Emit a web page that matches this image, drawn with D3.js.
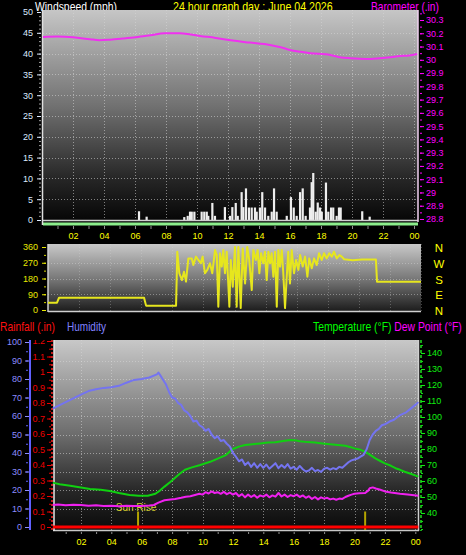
<!DOCTYPE html>
<html><head><meta charset="utf-8">
<script src="https://cdn.jsdelivr.net/npm/d3@7"></script>
<style>
html,body{margin:0;padding:0;background:#000;}
svg{display:block;}
</style></head><body>
<svg id="c" width="466" height="555"></svg>
<script>
// ---------- tick labels ----------
const tickHours = [2,4,6,8,10,12,14,16,18,20,22,24];
const hourLabels = ["02","04","06","08","10","12","14","16","18","20","22","00"];
const windTicks = [0,5,10,15,20,25,30,35,40,45,50];
const baroTicks = [28.8,28.9,29,29.1,29.2,29.3,29.4,29.5,29.6,29.7,29.8,29.9,30,30.1,30.2,30.3];
const dirTicks = [0,90,180,270,360];
const compassLabels = ["N","E","S","W","N"];
const humTicks = [0,10,20,30,40,50,60,70,80,90,100];
const rainTicks = [0,0.1,0.2,0.3,0.4,0.5,0.6,0.7,0.8,0.9,1,1.1,1.2];
const tempTicks = [40,50,60,70,80,90,100,110,120,130,140];

// ---------- barometer (in) ----------
const baroHours = [0.06,1,2,3.1,3.7,4.4,5.2,6.06,7,7.9,8.9,9.6,10.2,11.2,12.3,13.4,14.7,15.4,16,16.7,17.3,18.6,19.2,19.9,20.5,21.2,21.8,22.5,23.1,23.7,24.2];
const baroValues = [30.172,30.175,30.17,30.155,30.148,30.152,30.16,30.17,30.185,30.2,30.2,30.19,30.18,30.165,30.145,30.13,30.112,30.095,30.074,30.06,30.05,30.036,30.02,30.012,30.008,30.006,30.012,30.02,30.028,30.032,30.044];

// ---------- wind gusts (mph) ----------
const gustHours = [6.26,6.75,9.18,9.4,9.55,9.66,9.83,10.3,10.47,10.63,10.73,10.99,11.16,11.8,12.13,12.28,12.5,12.63,12.88,12.99,13.16,13.35,13.53,13.74,13.85,14.06,14.21,14.39,14.6,14.82,14.97,15.14,15.79,16.06,16.24,16.43,16.65,16.82,17.01,17.29,17.4,17.5,17.66,17.79,17.94,18.05,18.32,18.47,18.65,18.79,19.01,19.16,19.27,20.66,21.14];
const gustValues = [2.1,0.8,0.7,1,2,2,2,2,2,2,1,4.1,1,3.1,1,3.1,4.1,1,6.7,3.1,7.6,3,3,3,2,3,6.7,3,1,2,7.6,2,1,5.5,3,1,6.7,7.6,1,3,9.1,11.3,2,4.2,3,2,9,2,3,3,1,3,3,2.1,0.8];

// ---------- wind direction (deg) ----------
const dirHours = [0,0.58,0.71,6.18,6.31,8.24,8.32,8.45,8.62,8.75,8.88,9.03,9.25,9.35,9.52,9.67,9.83,9.95,10.1,10.25,10.42,10.57,10.75,10.86,10.96,11.07,11.18,11.28,11.39,11.5,11.67,11.76,11.89,12.03,12.14,12.25,12.4,12.53,12.68,12.82,12.95,13.11,13.21,13.38,13.49,13.6,13.71,13.85,13.96,14.07,14.18,14.29,14.39,14.5,14.61,14.72,14.82,14.93,15.04,15.14,15.25,15.36,15.46,15.57,15.68,15.83,15.96,16.11,16.22,16.39,16.54,16.69,16.81,16.97,17.12,17.29,17.44,17.61,17.76,17.93,18.1,18.26,18.4,18.58,18.75,18.9,19.05,19.6,20.2,21.1,21.17,24];
const dirValues = [42,42,70,70,25,25,333,210,171,219,162,295,295,257,305,286,267,305,210,229,267,210,343,314,19,324,248,343,210,333,19,286,133,360,19,360,11,352,152,360,286,114,343,286,343,210,324,267,333,171,333,267,324,190,333,19,343,248,343,210,11,190,333,152,343,210,286,229,314,248,305,190,295,238,295,257,324,286,324,295,324,305,333,295,314,305,290,284,288,288,162,162];

// ---------- humidity (%) ----------
const humHours = [0.15,0.5,1,1.5,2,2.5,3,3.5,4,4.5,5,5.5,6,6.5,7,7.1,7.3,7.6,7.8,8,8.2,8.4,8.6,8.8,9,9.2,9.4,9.6,9.8,10,10.2,10.4,10.6,10.8,11,11.2,11.4,11.6,11.8,12,12.2,12.4,12.6,12.8,13,13.2,13.4,13.6,13.8,14,14.2,14.4,14.6,14.8,15,15.2,15.4,15.6,15.8,16,16.2,16.4,16.6,16.8,17,17.2,17.4,17.6,17.8,18,18.2,18.4,18.6,18.8,19,19.2,19.4,19.6,19.8,20,20.2,20.4,20.6,20.8,21,21.2,21.4,21.6,21.8,22,22.3,22.6,23,23.4,23.7,24,24.2];
const humValues = [64,65.5,67.5,69.5,71.5,73.5,74.5,75.2,75.6,76.3,78,79.5,80,80.8,82.5,83.5,81,77,73,70,69.5,67,66,63,62,60,57,57.5,55,54,52,53,50,48,49,46.5,47,45,43.5,40,38,35.5,36.5,33.5,35,32.5,34.5,32,34,32,33.8,31.5,33,34.5,31.8,33.5,32,34,31.5,32.5,31,33,31.2,30,30.5,32,30.2,30.8,29.8,31.5,32,31,31.8,31.2,32.5,32,33.5,35,36,36.5,37,38,39,42,47,50,52,53,55,55.5,57,58,60.5,62,64,66,67.5];

// ---------- temperature (F) ----------
const tempHours = [0.15,0.6,1.3,2,2.6,3.3,3.9,4.5,5.2,5.8,6.4,6.9,7.2,7.5,7.9,8.2,8.5,8.85,9.3,9.85,10.5,11,11.5,11.8,12,12.4,12.8,13.3,13.8,14.3,14.8,15.3,15.8,16.1,16.4,16.9,17.4,17.9,18.4,18.9,19.4,19.7,20,20.4,20.7,21,21.4,21.7,22,22.4,22.7,23,23.3,23.7,24.2];
const tempValues = [59,58,57,56,55,54.5,53.8,52.5,51.2,50.8,50.8,52,54,56.5,59.5,62,64.5,67,68.5,70,72,74,76,78.5,80,81.5,82.5,83,83.5,84,84.2,85,85.6,85.5,84.8,84.3,84,83.5,83,82.5,82,81.3,80.4,79.5,78.3,76.5,74,72.5,71,69.5,68,67,65.8,64.5,62.7];

// ---------- dew point (F) ----------
const dewHours = [0.15,0.5,1,1.5,2,2.5,3,3.5,4,4.5,5,5.5,6,6.5,6.8,7.1,7.5,7.9,8.2,8.6,8.9,9.2,9.5,9.8,10,10.2,10.4,10.6,10.8,11,11.2,11.4,11.6,11.8,12,12.2,12.4,12.6,12.8,13,13.2,13.4,13.6,13.8,14,14.2,14.4,14.6,14.8,15,15.2,15.4,15.6,15.8,16,16.2,16.4,16.6,16.8,17,17.2,17.4,17.6,17.8,18,18.2,18.4,18.6,18.8,19,19.2,19.4,19.6,19.8,20,20.3,20.7,20.9,21,21.2,21.4,21.7,22,22.4,23,23.5,24.2];
const dewValues = [45,45.3,44.8,45.2,45,44.6,44.8,44.4,44.5,44.2,44.5,44.3,44.4,44.7,45,46.5,48,48.5,48.8,49.5,50.2,50.5,51.3,52,51.5,53,52.2,53.5,52.5,53,52,53.2,51.8,52.8,51.5,52.5,50.5,51.8,49.8,51.5,50,51.2,49.5,51,50.2,51.5,49.8,51,50.2,52.5,50.3,51.5,50,51.2,50.5,51.5,50,51,49.5,50.5,48.8,50,48.5,49.8,49,49.5,48.5,49,48.3,49,48.8,50,50.8,51.5,52,52.3,52.5,54,55.5,56,55.3,54.5,53.5,52.8,52,51.5,50.8];

// ---------- rainfall (in) & sun events ----------
const rainHours = [0.15,24.2];
const rainValues = [0,0];
const sunHours = [5.76,20.7];
const sunLabels = ["Sun Rise",""];

// =====================================================
const FONT = '"Liberation Sans Narrow","Arial Narrow","Liberation Sans",Arial,sans-serif';
const TFONT = '"Liberation Sans",Arial,sans-serif';
const svg = d3.select("#c");
const defs = svg.append("defs");
function grad(id, stops){
  const g = defs.append("linearGradient").attr("id",id).attr("x1",0).attr("y1",0).attr("x2",0).attr("y2",1);
  stops.forEach(([o,c])=>g.append("stop").attr("offset",o).attr("stop-color",c));
}
grad("gTop",[[0,"#c6c6c6"],[0.45,"#727272"],[0.8,"#262626"],[1,"#060606"]]);
grad("gMid",[[0,"#c8c8c8"],[0.5,"#7a7a7a"],[1,"#1a1a1a"]]);
grad("gBot",[[0,"#c8c8c8"],[0.5,"#6c6c6c"],[0.8,"#262626"],[1,"#0a0a0a"]]);

// scales
const xTop = d3.scaleLinear([0,24],[42,414]);
const yWind = d3.scaleLinear([0,50],[220,12]);
const yBaro = d3.scaleLinear([28.8,30.3],[219,20]);
const xMid = d3.scaleLinear([0,24],[48,421]);
const yDir = d3.scaleLinear([0,360],[310,247]);
const xBot = d3.scaleLinear([0,24],[50.5,415.3]);
const yHum = d3.scaleLinear([0,100],[527,342]);
const yRain = d3.scaleLinear([0,1.2],[527,341]);
const yTemp = d3.scaleLinear([40,140],[513,353]);

function styleAxis(g, color, size){
  g.attr("font-family", FONT).attr("font-size", size||9);
  g.selectAll("text").attr("fill", color);
  g.selectAll(".tick line").attr("stroke", color);
  g.select(".domain").remove();
  return g;
}
// title made of coloured parts, squeezed horizontally to the measured width
function title(parts, x, y, len){
  const t = svg.append("text").attr("font-family",TFONT).attr("font-size",12);
  parts.forEach(([txt,color])=>t.append("tspan").attr("fill",color).text(txt));
  const w = t.node().getComputedTextLength();
  t.attr("transform",`translate(${x},${y}) scale(${len/w},1)`);
}
function hgrid(g, vals, y, x0, x1, op){
  g.selectAll(null).data(vals).enter().append("line")
   .attr("x1",x0).attr("x2",x1).attr("y1",d=>Math.round(y(d))+0.5).attr("y2",d=>Math.round(y(d))+0.5)
   .attr("stroke","#d8d8d8").attr("stroke-dasharray","1,2").attr("opacity",op||0.55);
}
function vgrid(g, vals, x, y0, y1, op){
  g.selectAll(null).data(vals).enter().append("line")
   .attr("y1",y0).attr("y2",y1).attr("x1",d=>Math.round(x(d))+0.5).attr("x2",d=>Math.round(x(d))+0.5)
   .attr("stroke","#d8d8d8").attr("stroke-dasharray","1,2").attr("opacity",op||0.55);
}

// ================= TOP PANEL =================
title([["Windspeed (mph)","#ffffff"]],35,10.5,82);
title([["24 hour graph day : June 04 2026","#ffff00"]],173,10.5,160);
title([["Barometer (.in)","#ff00ff"]],371,10.5,68);

const gTopP = svg.append("g");
gTopP.append("rect").attr("x",43).attr("y",10).attr("width",375).attr("height",211).attr("fill","url(#gTop)");
hgrid(gTopP, windTicks.filter(d=>d>0&&d<50), yWind, 43, 418);
vgrid(gTopP, tickHours, xTop, 10, 220);
// wind gust bars
gTopP.selectAll(".gust").data(gustHours).enter().append("rect")
  .attr("x",(d)=>xTop(d)-1.1).attr("width",2.2)
  .attr("y",(d,i)=>yWind(gustValues[i])).attr("height",(d,i)=>yWind(0)-yWind(gustValues[i]))
  .attr("fill","#eeeeee");
// baseline + frame
gTopP.append("line").attr("x1",43).attr("x2",418).attr("y1",220.5).attr("y2",220.5).attr("stroke","#d0d0d0").attr("stroke-width",1.5);
gTopP.append("line").attr("x1",43).attr("x2",418).attr("y1",224).attr("y2",224).attr("stroke","#8cee8c").attr("stroke-width",3);
gTopP.append("line").attr("x1",42.5).attr("x2",42.5).attr("y1",10).attr("y2",225).attr("stroke","#e0e0e0").attr("stroke-width",1.5);
gTopP.append("line").attr("x1",418).attr("x2",418).attr("y1",10).attr("y2",222).attr("stroke","#f0d0f0").attr("stroke-width",1.5);
// barometer line
gTopP.append("path").datum(baroHours)
  .attr("d", d3.line().x(d=>xTop(d)).y((d,i)=>yBaro(baroValues[i])).curve(d3.curveMonotoneX))
  .attr("fill","none").attr("stroke","#f030f0").attr("stroke-width",2);
// axes
styleAxis(svg.append("g").attr("transform","translate(41,0)")
  .call(d3.axisLeft(yWind).tickValues(d3.range(0,51,1)).tickSize(2).tickFormat("")), "#a0a0a0");
styleAxis(svg.append("g").attr("transform","translate(41,0)")
  .call(d3.axisLeft(yWind).tickValues(windTicks).tickSize(4).tickPadding(4)), "#dceaff");
styleAxis(svg.append("g").attr("transform","translate(420,0)")
  .call(d3.axisRight(yBaro).tickValues(d3.range(28.8,30.36,0.05)).tickSize(2).tickFormat("")), "#ff00ff");
styleAxis(svg.append("g").attr("transform","translate(420,0)")
  .call(d3.axisRight(yBaro).tickValues(baroTicks).tickSize(4).tickPadding(2).tickFormat(d3.format("~g"))), "#ff00ff");
styleAxis(svg.append("g").attr("transform","translate(0,226)")
  .call(d3.axisBottom(xTop).tickValues(d3.range(1,25,1)).tickSize(3).tickFormat("")), "#909090");
styleAxis(svg.append("g").attr("transform","translate(0,226)")
  .call(d3.axisBottom(xTop).tickValues(tickHours).tickSize(0).tickPadding(7).tickFormat((d,i)=>hourLabels[i])), "#ffff00");

// ================= MIDDLE PANEL =================
const gMidP = svg.append("g");
gMidP.append("rect").attr("x",48).attr("y",244).attr("width",373).attr("height",68).attr("fill","url(#gMid)");
hgrid(gMidP, [90,180,270], yDir, 48, 421, 0.45);
vgrid(gMidP, tickHours, xMid, 244, 311, 0.3);
gMidP.append("line").attr("x1",48).attr("x2",421).attr("y1",311.5).attr("y2",311.5).attr("stroke","#d0d0d0").attr("stroke-width",1.5);
gMidP.append("line").attr("x1",48).attr("x2",48).attr("y1",244).attr("y2",312).attr("stroke","#d0d0d0").attr("stroke-width",1.5);
gMidP.append("path").datum(dirHours)
  .attr("d", d3.line().x(d=>xMid(d)).y((d,i)=>yDir(dirValues[i])))
  .attr("fill","none").attr("stroke","#e6e61e").attr("stroke-width",2).attr("stroke-linejoin","round");
styleAxis(svg.append("g").attr("transform","translate(46,0)")
  .call(d3.axisLeft(yDir).tickValues(d3.range(0,361,45)).tickSize(2).tickFormat("")), "#d8d800");
styleAxis(svg.append("g").attr("transform","translate(46,0)")
  .call(d3.axisLeft(yDir).tickValues(dirTicks).tickSize(4).tickPadding(4)), "#e8e800");
svg.append("g").selectAll("text").data(dirTicks).enter().append("text")
  .attr("x",439).attr("y",d=>yDir(d)+1).attr("dy","0.35em").attr("text-anchor","middle")
  .attr("font-family",TFONT).attr("font-size",11.5).attr("fill","#ffff00")
  .text((d,i)=>compassLabels[i]);

// ================= BOTTOM PANEL =================
title([["Rainfall (.in)","#ff1010"]],0,331,55);
title([["Humidity","#8080ff"]],67,331,39);
title([["Temperature (°F) ","#00ff00"],["Dew Point (°F)","#ff00ff"]],313,331,149);

const gBotP = svg.append("g");
gBotP.append("rect").attr("x",54).attr("y",340).attr("width",365).attr("height",190).attr("fill","url(#gBot)");
hgrid(gBotP, humTicks.filter(d=>d>0&&d<100), yHum, 54, 419);
vgrid(gBotP, tickHours, xBot, 340, 530);
gBotP.append("line").attr("x1",53).attr("x2",419).attr("y1",530.5).attr("y2",530.5).attr("stroke","#c8c8c8").attr("stroke-width",1.5);
gBotP.append("line").attr("x1",54).attr("x2",54).attr("y1",340).attr("y2",531).attr("stroke","#e8e8e8").attr("stroke-width",1.5);
gBotP.append("line").attr("x1",52).attr("x2",52).attr("y1",340).attr("y2",531).attr("stroke","#ff2020").attr("stroke-width",1.5).attr("stroke-dasharray","2,2");
gBotP.append("line").attr("x1",418.5).attr("x2",418.5).attr("y1",340).attr("y2",531).attr("stroke","#d0d0d0").attr("stroke-width",1.5);
gBotP.append("line").attr("x1",421).attr("x2",421).attr("y1",340).attr("y2",531).attr("stroke","#20e020").attr("stroke-width",1.5).attr("stroke-dasharray","3,2");
gBotP.append("line").attr("x1",30).attr("x2",30).attr("y1",340).attr("y2",530).attr("stroke","#6060ff").attr("stroke-width",2);

// sun rise / set
gBotP.selectAll(".sun").data(sunHours).enter().append("line")
  .attr("x1",d=>xBot(d)).attr("x2",d=>xBot(d)).attr("y1",yRain(0.1)).attr("y2",530)
  .attr("stroke","#b4a400").attr("stroke-width",2);
gBotP.selectAll(".sunt").data(sunHours).enter().append("text")
  .attr("x",d=>xBot(d)-2).attr("y",yRain(0.1)-1).attr("text-anchor","middle")
  .attr("font-family",TFONT).attr("font-size",10).attr("fill","#d4cc30")
  .text((d,i)=>sunLabels[i]);

function series(hours, values, y, color, w){
  gBotP.append("path").datum(hours)
    .attr("d", d3.line().x(d=>xBot(d)).y((d,i)=>y(values[i])))
    .attr("fill","none").attr("stroke",color).attr("stroke-width",w||2).attr("stroke-linejoin","round");
}
series(rainHours, rainValues, yRain, "#ff0000", 3);
series(dewHours, dewValues, yTemp, "#f020f0", 2);
series(tempHours, tempValues, yTemp, "#10d010", 2);
series(humHours, humValues, yHum, "#7474f0", 2);

// axes
styleAxis(svg.append("g").attr("transform","translate(28,0)")
  .call(d3.axisLeft(yHum).tickValues(d3.range(0,101,5)).tickSize(2).tickFormat("")), "#6464ff");
styleAxis(svg.append("g").attr("transform","translate(29,0)")
  .call(d3.axisLeft(yHum).tickValues(humTicks).tickSize(4).tickPadding(3)), "#8c8cff");
defs.append("clipPath").attr("id","clipRain").append("rect").attr("x",0).attr("y",340).attr("width",60).attr("height",200);
const rainAx = svg.append("g").attr("clip-path","url(#clipRain)");
styleAxis(rainAx.append("g").attr("transform","translate(51,0)")
  .call(d3.axisLeft(yRain).tickValues(d3.range(0,1.25,0.05)).tickSize(2).tickFormat("")), "#dd0000");
styleAxis(rainAx.append("g").attr("transform","translate(51,0)")
  .call(d3.axisLeft(yRain).tickValues(rainTicks).tickSize(4).tickPadding(2).tickFormat(d3.format("~g"))), "#ee0000");
styleAxis(svg.append("g").attr("transform","translate(421,0)")
  .call(d3.axisRight(yTemp).tickValues(d3.range(30,146,5)).tickSize(2).tickFormat("")), "#10dd10");
styleAxis(svg.append("g").attr("transform","translate(421,0)")
  .call(d3.axisRight(yTemp).tickValues(tempTicks).tickSize(4).tickPadding(2)), "#10ee10");
styleAxis(svg.append("g").attr("transform","translate(0,532)")
  .call(d3.axisBottom(xBot).tickValues(d3.range(1,25,1)).tickSize(2).tickFormat("")), "#909090");
styleAxis(svg.append("g").attr("transform","translate(0,531)")
  .call(d3.axisBottom(xBot).tickValues(tickHours).tickSize(0).tickPadding(8).tickFormat((d,i)=>hourLabels[i])), "#ffff00");
</script>
</body></html>
